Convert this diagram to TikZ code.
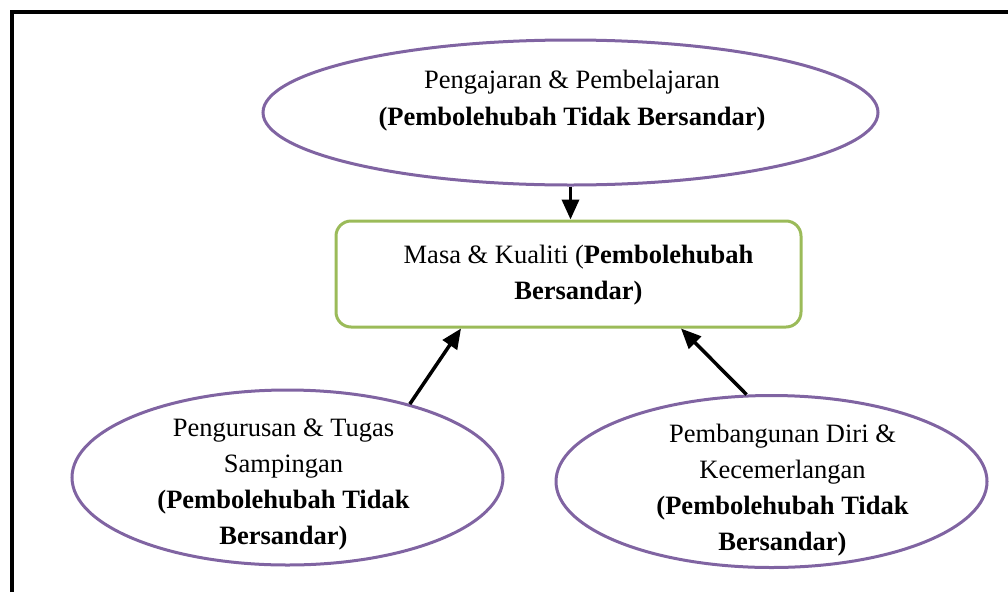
\documentclass[tikz,border=0pt]{standalone}
\usepackage{fontspec, xcolor}
\setmainfont{Liberation Serif}
\usetikzlibrary{shapes.geometric, arrows.meta}
\definecolor{ungu}{HTML}{8064A2}
\definecolor{hijau}{HTML}{9BBB59}

\begin{document}
\begin{tikzpicture}[x=1pt, y=-1pt,
  oval/.style={draw=ungu, line width=3pt, ellipse, inner sep=0pt},
  kotak/.style={draw=hijau, line width=3pt, rounded corners=15pt, minimum width=465pt, minimum height=106pt},
  teks/.style={align=center, font=\fontsize{26.5}{36}\selectfont},
  panah/.style={line width=3.5pt, -{Triangle[length=20pt, width=17pt]}}]
\useasboundingbox (0,0) rectangle (1008,592);
% bingkai
\draw [line width=4pt] (12,592) -- (12,12) -- (1008,12);
% bentuk
\node [oval, minimum width=615pt, minimum height=145pt] (pp) at (570.5,112.5) {};
\node [kotak] (masa) at (568.5,274) {};
\node [oval, minimum width=431pt, minimum height=175pt] (pt) at (287.5,477.5) {};
\node [oval, minimum width=431pt, minimum height=172pt] (pd) at (771.5,481.5) {};
% teks
\node [teks, font=\fontsize{26.5}{37}\selectfont] (tpp) at (572,100.5) {Pengajaran \& Pembelajaran\\\textbf{(Pembolehubah Tidak Bersandar)}};
\node [teks] (tmasa) at (578.5,275) {Masa \& Kualiti (\textbf{Pembolehubah}\\\textbf{Bersandar)}};
\node [teks] (tpt) at (283.5,484) {Pengurusan \& Tugas\\Sampingan\\\textbf{(Pembolehubah Tidak}\\\textbf{Bersandar)}};
\node [teks] (tpd) at (782.5,490) {Pembangunan Diri \&\\Kecemerlangan\\\textbf{(Pembolehubah Tidak}\\\textbf{Bersandar)}};
% anak panah
\draw [panah] (pp.south) -- (pp.south |- masa.north);
\draw [panah] (pt.31) -- ([xshift=-107.5pt]masa.south);
\draw [panah] (pd.106) -- ([xshift=112.5pt]masa.south);
\end{tikzpicture}
\end{document}
